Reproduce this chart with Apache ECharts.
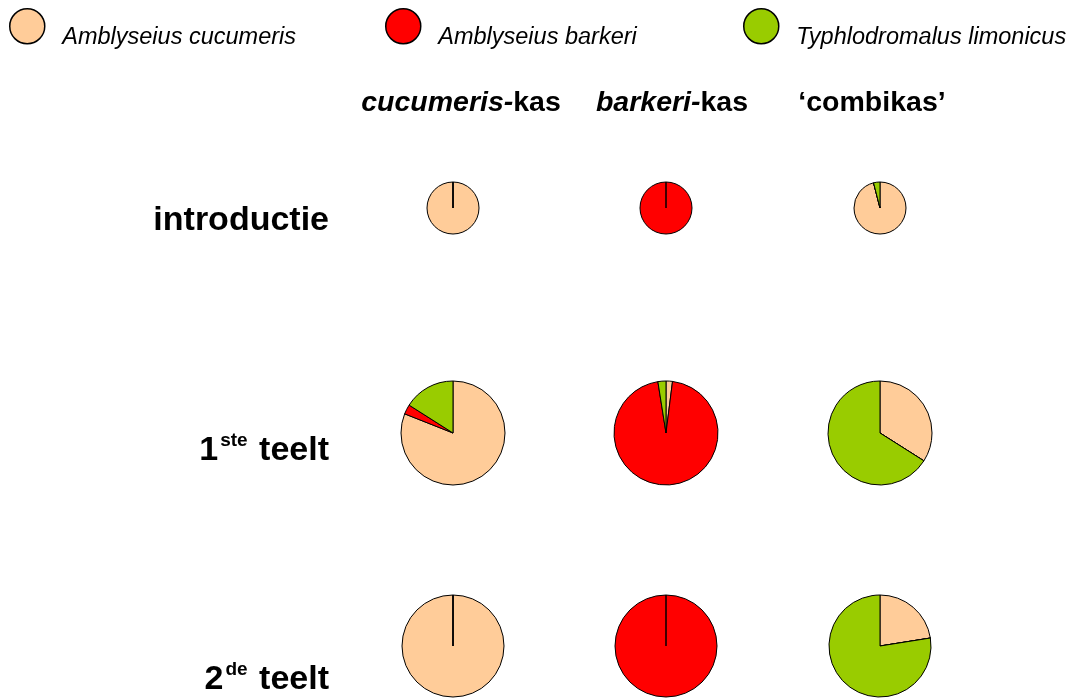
<!DOCTYPE html>
<html>
<head>
<meta charset="utf-8">
<script src="https://cdn.jsdelivr.net/npm/echarts@6/dist/echarts.min.js"></script>
<style>
  html, body { margin: 0; padding: 0; background: #fff; }
  #chart { width: 1075px; height: 698px; }
</style>
</head>
<body>
<div id="chart"></div>
<script>
// soorten roofmijten (volgorde = volgorde van de taartpunten, met de klok mee vanaf 12 uur)
var soorten = ['Amblyseius cucumeris', 'Amblyseius barkeri', 'Typhlodromalus limonicus'];
var kleuren = ['#FFCC99', '#FF0000', '#99CC00'];

// kolommen (kassen) en rijen (momenten)
var kassen = ['cucumeris-kas', 'barkeri-kas', 'combikas'];
var momenten = ['introductie', '1ste teelt', '2de teelt'];

// aandeel per soort (%), per moment: introductie, 1ste teelt, 2de teelt
var cucumerisKas = [[100, 0, 0], [81, 3, 16], [100, 0, 0]];
var barkeriKas   = [[0, 100, 0], [2, 95.5, 2.5], [0, 100, 0]];
var combiKas     = [[96, 0, 4], [34, 0, 66], [22.5, 0, 77.5]];

var alleKassen = [cucumerisKas, barkeriKas, combiKas];

var myChart = echarts.init(document.getElementById('chart'));

var kolomX = [453, 666, 880];
var rijY = [208, 433, 646];
var straal = [26, 52, 51];

var series = [];
for (var k = 0; k < alleKassen.length; k++) {
  for (var m = 0; m < momenten.length; m++) {
    var waarden = alleKassen[k][m];
    var data = [];
    for (var s = 0; s < soorten.length; s++) {
      data.push({ name: soorten[s], value: waarden[s], itemStyle: { color: kleuren[s] } });
    }
    series.push({
      name: kassen[k] + ' - ' + momenten[m],
      type: 'pie',
      center: [kolomX[k], rijY[m]],
      radius: straal[m],
      startAngle: 90,
      clockwise: true,
      avoidLabelOverlap: false,
      label: { show: false },
      labelLine: { show: false },
      emphasis: { disabled: true },
      itemStyle: { borderColor: '#000', borderWidth: 1 },
      data: data
    });
  }
}

var legendX = [9, 385, 743];
var legends = [];
for (var i = 0; i < soorten.length; i++) {
  legends.push({
    data: [soorten[i]],
    left: legendX[i],
    top: 8,
    padding: 0,
    icon: 'circle',
    itemWidth: 38,
    itemHeight: 35,
    selectedMode: false,
    itemStyle: { borderColor: '#000', borderWidth: 1.5 },
    formatter: '{t|{name}}',
    textStyle: {
      rich: {
        t: {
          fontFamily: 'Liberation Sans, Arial',
          fontStyle: 'italic',
          fontSize: 23.5,
          color: '#000',
          padding: [22, 0, 0, 11]
        }
      }
    }
  });
}

var kopX = [461, 672, 872];
var kopTekst = [
  '{i|cucumeris-}{b|kas}',
  '{i|barkeri-}{b|kas}',
  '{b|\u2018combikas\u2019}'
];
var kopRich = {
  i: { fontFamily: 'Liberation Sans, Arial', fontWeight: 'bold', fontStyle: 'italic', fontSize: 28.5, color: '#000' },
  b: { fontFamily: 'Liberation Sans, Arial', fontWeight: 'bold', fontSize: 28.5, color: '#000' }
};
var rijTekst = [
  '{n|introductie}',
  '{n|1}{s|ste}{n| teelt}',
  '{n|2}{s|de}{n| teelt}'
];
var rijRich = {
  n: { fontFamily: 'Liberation Sans, Arial', fontWeight: 'bold', fontSize: 34, color: '#000', lineHeight: 40 },
  s: { fontFamily: 'Liberation Sans, Arial', fontWeight: 'bold', fontSize: 19, color: '#000', verticalAlign: 'top', lineHeight: 40, padding: [0, 2, 0, 2] }
};
var rijLabelY = [221, 451, 680];

var titles = [];
for (var c = 0; c < kassen.length; c++) {
  titles.push({
    text: kopTekst[c],
    left: kopX[c],
    top: 103,
    padding: 0,
    textAlign: 'center',
    textVerticalAlign: 'middle',
    textStyle: { rich: kopRich }
  });
}
for (var r = 0; r < momenten.length; r++) {
  titles.push({
    text: rijTekst[r],
    left: 329,
    top: rijLabelY[r],
    padding: 0,
    textAlign: 'right',
    textVerticalAlign: 'middle',
    textStyle: { rich: rijRich }
  });
}

var option = {
  animation: false,
  backgroundColor: '#fff',
  title: titles,
  legend: legends,
  series: series
};

myChart.setOption(option);
window.onresize = myChart.resize;
</script>
</body>
</html>
